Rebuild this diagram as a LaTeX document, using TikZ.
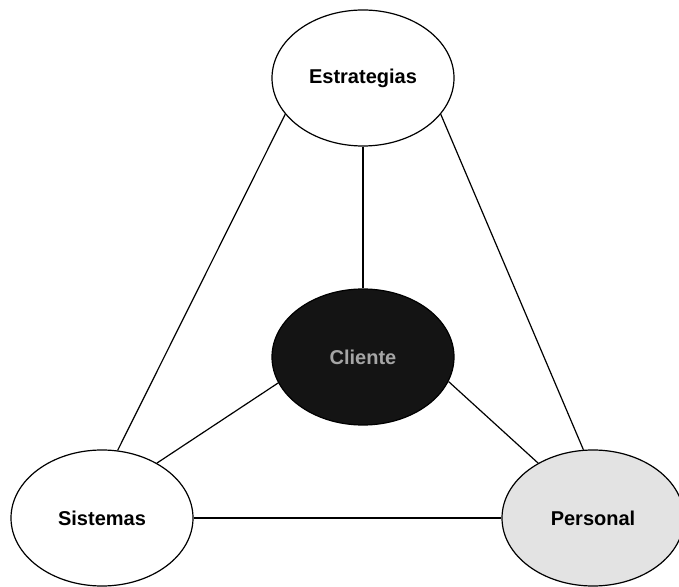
\documentclass[tikz,border=0pt]{standalone}
\usepackage{fontspec}
\setmainfont{Liberation Sans}
\usetikzlibrary{shapes.geometric}
\begin{document}
\begin{tikzpicture}[x=1pt,y=1pt,
  elli/.style={ellipse,draw=black,line width=1.2pt,inner sep=0pt,
    minimum width=182pt,minimum height=136pt,font=\fontsize{20}{23}\selectfont\bfseries},
  link/.style={draw=black,line width=1.2pt}]
\useasboundingbox (0,0) rectangle (679,586);
\node[elli,fill=white] (est) at (363,508) {Estrategias};
\node[elli,fill=black!92,text=gray!70] (cli) at (363,229) {Cliente};
\node[elli,fill=white] (sis) at (102,68) {Sistemas};
\node[elli,fill=gray!22] (per) at (593,68) {Personal};
\draw[link] (est.270) -- (cli.90);
\draw[link] (est.205) -- (sis.77);
\draw[link] (est.335) -- (per.98);
\draw[link] (cli.197) -- (sis.45);
\draw[link] (cli.344) -- (per.135);
\draw[link] (sis.0) -- (per.180);
\end{tikzpicture}
\end{document}
